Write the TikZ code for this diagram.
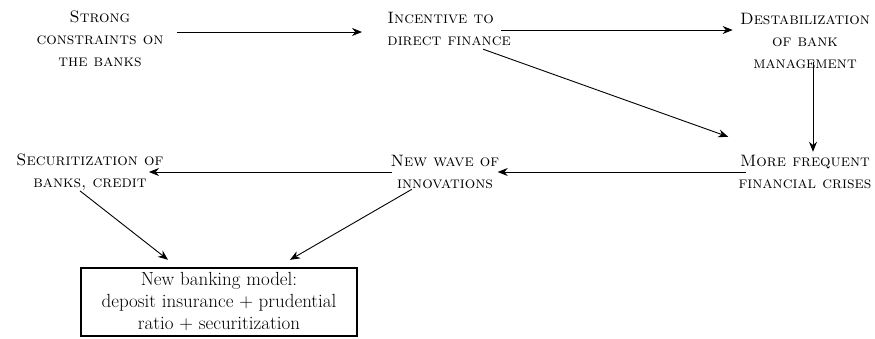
\documentclass[tikz,border=0pt]{standalone}
\usetikzlibrary{arrows.meta}

\begin{document}
\begin{tikzpicture}[x=1pt,y=-1pt,->,>={Stealth[length=10pt,width=8pt]},line width=0.9pt,
    lbl/.style={font=\fontsize{16.5}{22}\selectfont\scshape,align=center,inner sep=0pt},
    model/.style={draw,line width=2.4pt,inner sep=0pt,minimum width=276pt,minimum height=68pt,
      align=center,font=\fontsize{19}{22}\selectfont}]
      \useasboundingbox (0,0) rectangle (875,338);
      \node[lbl] (sc) at (100,39) {Strong\\constraints on\\the banks};
      \node[lbl,align=left,anchor=west] (ic) at (387,29) {Incentive to\\direct finance};
      \node[lbl] (db) at (805,41) {Destabilization\\of bank\\management};
      \node[lbl] (mf) at (805,172) {More frequent\\financial crises};
      \node[lbl] (nw) at (445,172) {New wave of\\innovations};
      \node[lbl] (sb) at (90,172) {Securitization of\\banks, credit};
      \node[model] (nm) at (219,302) {New banking model:\\deposit insurance + prudential\\ratio + securitization};
      \path ([yshift=7pt]sc.east) edge[shorten <=13pt,shorten >=25pt] ([yshift=-3pt]ic.west)
        ([xshift=-10pt,yshift=-1pt]ic.east) edge ([xshift=-7pt,yshift=11pt]db.west)
        ([xshift=8pt]db.south) edge[shorten <=-7pt,shorten >=3pt] ([xshift=8pt]mf.north)
        ([xshift=34pt,yshift=-3pt]ic.south) edge ([xshift=-10pt,yshift=18pt]mf.north west)
        ([xshift=8pt]mf.west) edge ([xshift=-2pt]nw.east)
        ([xshift=2pt]nw.west) edge ([xshift=-15pt]sb.east)
        ([xshift=-10pt]sb.south) edge ([xshift=-51pt,yshift=7pt]nm.north)
        ([xshift=-33pt]nw.south) edge ([xshift=71pt,yshift=7pt]nm.north);
\end{tikzpicture}
\end{document}
